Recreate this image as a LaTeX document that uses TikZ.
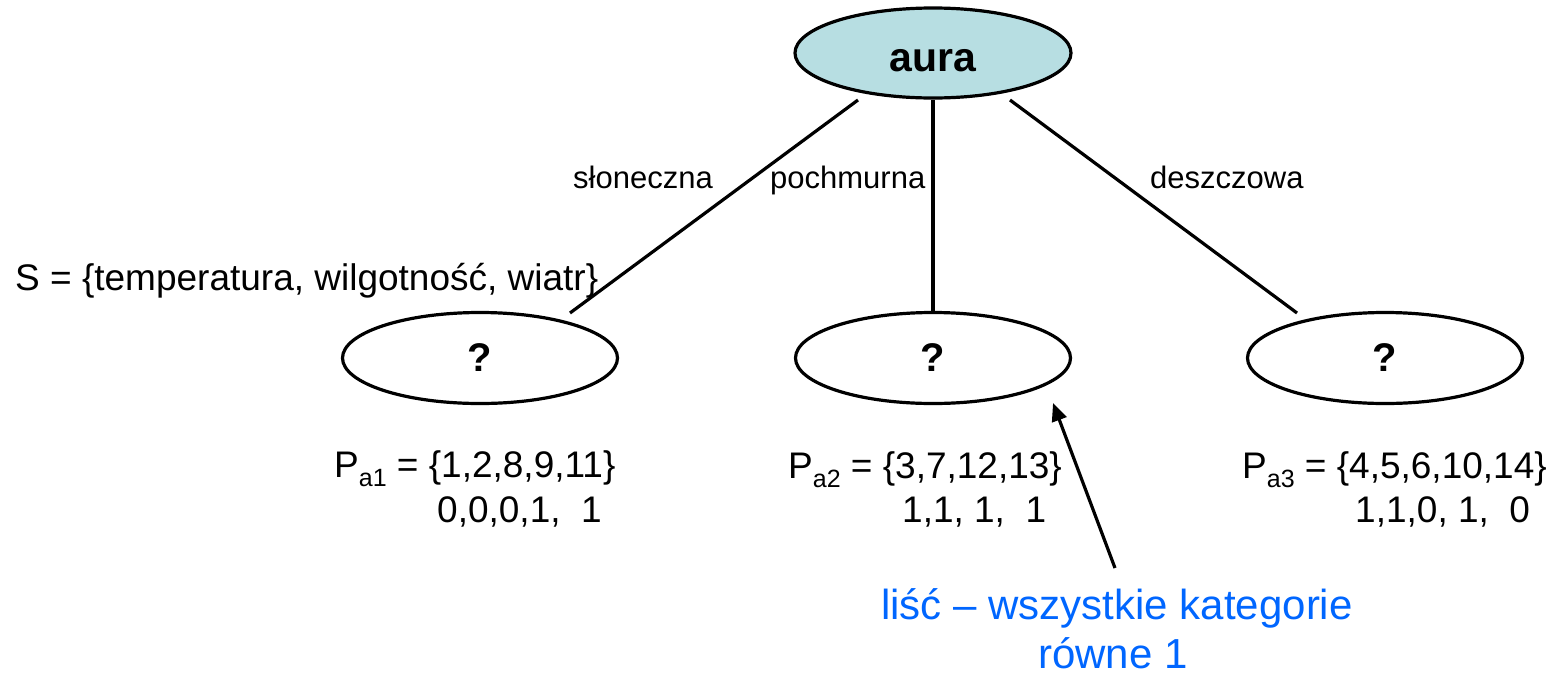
\documentclass[tikz,border=0pt]{standalone}
\usepackage{fontspec}
\setmainfont{Liberation Sans}
\usetikzlibrary{shapes.geometric,arrows.meta}
\definecolor{aurafill}{RGB}{183,222,226}
\definecolor{leafblue}{RGB}{0,102,255}
\newcommand{\psub}[1]{\raisebox{-9pt}{\fontsize{25}{25}\selectfont #1}}
\begin{document}
\begin{tikzpicture}[x=1pt,y=-1pt,
  treenode/.style={draw=black, line width=3.2pt, ellipse, minimum width=275pt, minimum height=91pt, inner sep=0pt, font=\fontsize{40}{48}\selectfont\bfseries},
  edge/.style={line width=3.2pt},
  edgelabel/.style={anchor=base west, inner sep=0pt, font=\fontsize{31}{37}\selectfont},
  maintext/.style={anchor=base west, inner sep=0pt, font=\fontsize{37}{44}\selectfont},
  leaftext/.style={anchor=base, inner sep=0pt, text=leafblue, font=\fontsize{42}{50}\selectfont}]
\useasboundingbox (0,0) rectangle (1553,675);
% nodes
\node[treenode, fill=aurafill, minimum width=276pt, minimum height=90pt] (aura) at (933,53) {};
\node[anchor=base, inner sep=0pt, font=\fontsize{41}{48}\selectfont\bfseries] (auratext) at (933,71) {aura};
\node[treenode] (q1) at (480,358) {?};
\node[treenode] (q2) at (933,358) {?};
\node[treenode] (q3) at (1385,358) {?};
% connector end points
\coordinate (e1a) at (858,100);
\coordinate (e1b) at (570,313);
\coordinate (e2a) at (933,100);
\coordinate (e2b) at (933,313);
\coordinate (e3a) at (1010,100);
\coordinate (e3b) at (1297,313);
\draw[edge] (e1a) -- (e1b);
\draw[edge] (e2a) -- (e2b);
\draw[edge] (e3a) -- (e3b);
% edge labels
\node[edgelabel] (l1) at (573,188) {słoneczna};
\node[edgelabel] (l2) at (770,188) {pochmurna};
\node[edgelabel] (l3) at (1150,188) {deszczowa};
% attribute set
\node[maintext] (S) at (15,290) {S = \{temperatura, wilgotność, wiatr\}};
% partitions
\node[maintext] (p1) at (334,477) {P\psub{a1} = \{1,2,8,9,11\}};
\node[maintext] (c1) at (437,522) {0,0,0,1,\ \ 1};
\node[maintext] (p2) at (788,478) {P\psub{a2} = \{3,7,12,13\}};
\node[maintext] (c2) at (902,522) {1,1, 1,\ \ 1};
\node[maintext] (p3) at (1242,478) {P\psub{a3} = \{4,5,6,10,14\}};
\node[maintext] (c3) at (1355,522) {1,1,0, 1,\ \ 0};
% leaf note
\node[leaftext] (leaf1) at (1117,619) {liść – wszystkie kategorie};
\node[leaftext] (leaf2) at (1113,668) {równe 1};
\coordinate (arrtail) at (1115,568);
\coordinate (arrtip) at (1053,403);
\draw[edge, -{Triangle[length=18pt,width=15pt]}] (arrtail) -- (arrtip);
\end{tikzpicture}
\end{document}
